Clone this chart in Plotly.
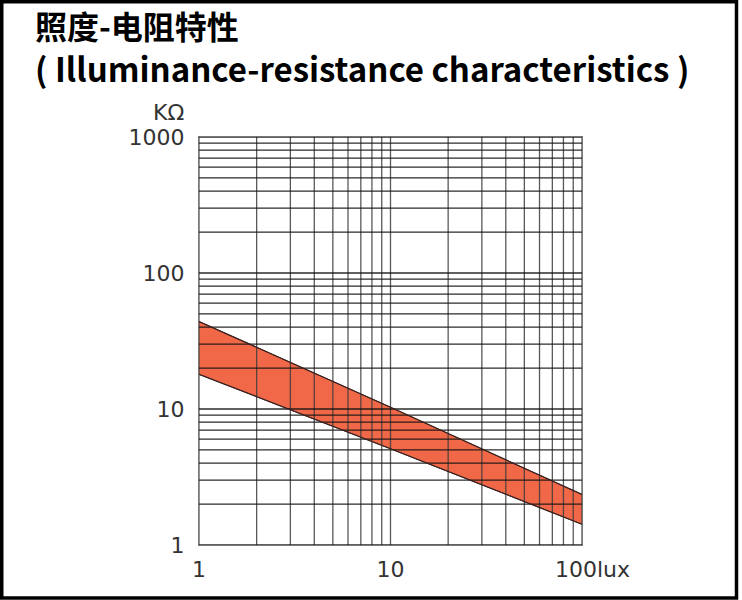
import plotly.graph_objects as go

# ---- data ----
lux = [1, 10, 100]
r_upper = [44, 10.3, 2.35]   # kOhm, upper boundary of band
r_lower = [18, 5.1, 1.42]    # kOhm, lower boundary of band

x_tickvals = [1, 10, 100]
x_ticktext = ["1", "10", "\u00a0\u00a0\u00a0100lux"]
y_tickvals = [1, 10, 100, 1000]
y_ticktext = ["1", "10", "100", "1000"]

x_grid = [1, 2, 3, 4, 5, 6, 7, 8, 9, 10, 20, 30, 40, 50, 60, 70, 80, 90, 100]
y_grid = [1, 2, 3, 4, 5, 6, 7, 8, 9, 10, 20, 30, 40, 50, 60, 70, 80, 90, 100,
          200, 300, 400, 500, 600, 700, 800, 900, 1000]

title_cn = "照度-电阻特性"
title_en = "( Illuminance-resistance characteristics )"
y_unit = "KΩ"

# ---- layout geometry ----
FW, FH = 742, 600
L, R, T, B = 199, 160, 137, 55
PW, PH = FW - L - R, FH - T - B


def px(xpix):
    return (xpix - L) / PW


def py(ypix):
    return (FH - B - ypix) / PH


fig = go.Figure()

# band fill
fig.add_trace(go.Scatter(x=lux, y=r_lower, mode="lines",
                         line=dict(color="#4a2a22", width=1), showlegend=False,
                         hoverinfo="skip"))
fig.add_trace(go.Scatter(x=lux, y=r_upper, mode="lines", fill="tonexty",
                         fillcolor="rgba(240,92,58,0.93)",
                         line=dict(color="#4a2a22", width=1), showlegend=False,
                         hoverinfo="skip"))

# grid drawn over the band
gx, gy = [], []
for v in x_grid:
    gx += [v, v, None]
    gy += [y_grid[0], y_grid[-1], None]
fig.add_trace(go.Scatter(x=gx, y=gy, mode="lines",
                         line=dict(color="rgba(60,60,60,0.85)", width=1.3),
                         showlegend=False, hoverinfo="skip"))
hx, hy = [], []
for v in y_grid:
    hx += [x_grid[0], x_grid[-1], None]
    hy += [v, v, None]
fig.add_trace(go.Scatter(x=hx, y=hy, mode="lines",
                         line=dict(color="rgba(20,20,20,0.9)", width=1.3),
                         showlegend=False, hoverinfo="skip"))

# band edges on top
fig.add_trace(go.Scatter(x=lux, y=r_upper, mode="lines",
                         line=dict(color="#3a2220", width=1.2), showlegend=False,
                         hoverinfo="skip"))
fig.add_trace(go.Scatter(x=lux, y=r_lower, mode="lines",
                         line=dict(color="#3a2220", width=1.2), showlegend=False,
                         hoverinfo="skip"))

tick_font = dict(family="DejaVu Sans, sans-serif", size=22, color="#333333")

fig.update_layout(
    width=FW, height=FH,
    margin=dict(l=L, r=R, t=T, b=B),
    paper_bgcolor="white", plot_bgcolor="white",
    showlegend=False,
    xaxis=dict(type="log", range=[0, 2], showgrid=False, zeroline=False,
               tickvals=x_tickvals, ticktext=x_ticktext, ticks="",
               tickfont=tick_font, ticklabelstandoff=5,
               showline=True, linecolor="#777777", linewidth=1, mirror=True),
    yaxis=dict(type="log", range=[0, 3], showgrid=False, zeroline=False,
               tickvals=y_tickvals, ticktext=y_ticktext, ticks="",
               tickfont=tick_font, ticklabelstandoff=9,
               showline=True, linecolor="#777777", linewidth=1, mirror=True),
    font=dict(family="DejaVu Sans, sans-serif"),
)

title_font = dict(family="Noto Sans CJK SC, sans-serif", size=33, color="black")
title_text = ("<b><span style='font-size:32px'>" + title_cn + "</span></b><br>"
              "<b>" + title_en + "</b>")
fig.add_annotation(text=title_text, xref="paper", yref="paper",
                   x=px(33), y=py(47), xanchor="left", yanchor="middle",
                   align="left", showarrow=False, font=title_font)
fig.add_annotation(text=y_unit, xref="paper", yref="paper",
                   x=px(186), y=py(112), xanchor="right", yanchor="middle",
                   showarrow=False, font=tick_font)

# outer black frame
fig.add_shape(type="rect", xref="paper", yref="paper",
              x0=px(1.75), x1=px(736.5), y0=py(598), y1=py(1.75),
              line=dict(color="black", width=3.5), layer="above")

fig.write_html("out.html", config={"displayModeBar": False},
               post_script="document.body.style.margin='0';")
